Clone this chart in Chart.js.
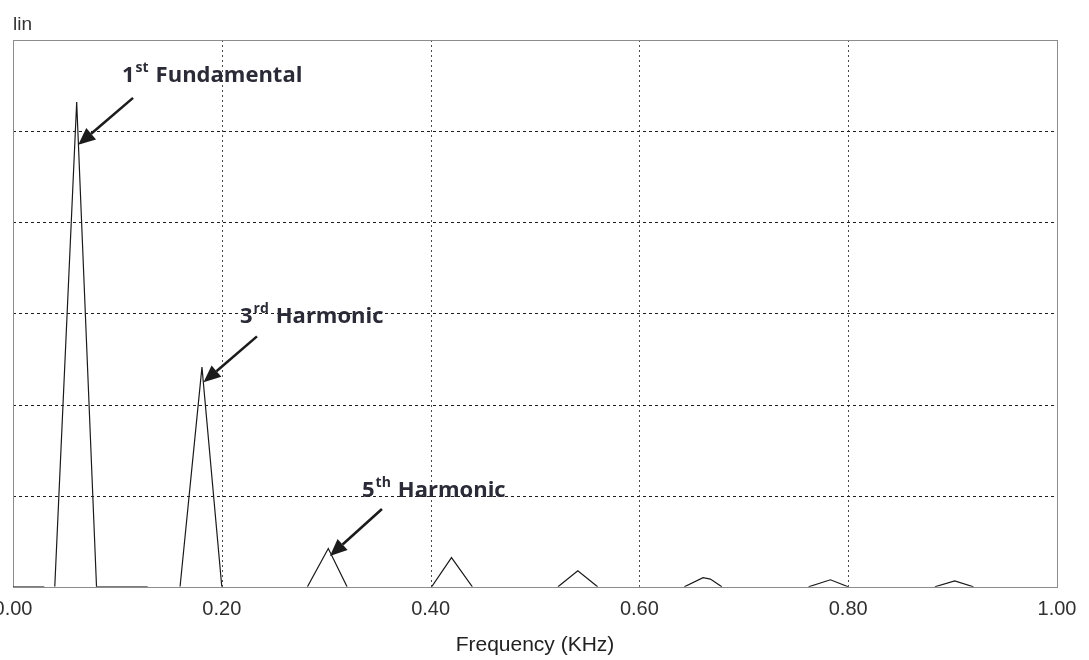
<!DOCTYPE html>
<html>
<head>
<meta charset="utf-8">
<script src="https://cdn.jsdelivr.net/npm/chart.js@4.4.1/dist/chart.umd.min.js"></script>
<style>
  html, body { margin: 0; padding: 0; background: #ffffff; overflow: hidden; }
  #wrap { position: relative; width: 1089px; height: 660px; }
</style>
</head>
<body>
<div id="wrap"><canvas id="spectrum"></canvas></div>
<script>
// Spectrum trace: frequency (kHz) and linear amplitude; null breaks the trace.
const frequencyKHz = [
  0.000, 0.030, 0.035,
  0.040, 0.061, 0.080, 0.129, 0.145,
  0.160, 0.181, 0.200, 0.240,
  0.282, 0.302, 0.320, 0.360,
  0.401, 0.420, 0.440, 0.480,
  0.522, 0.541, 0.560, 0.600,
  0.643, 0.661, 0.668, 0.679, 0.720,
  0.762, 0.783, 0.800, 0.840,
  0.883, 0.902, 0.920
];
const amplitude = [
  0, 0, null,
  0, 5.32, 0, 0, null,
  0, 2.41, 0, null,
  0, 0.42, 0, null,
  0, 0.32, 0, null,
  0, 0.175, 0, null,
  0, 0.10, 0.085, 0, null,
  0, 0.077, 0, null,
  0, 0.065, 0
];

// Axis ticks
const xTickValues = [0.00, 0.20, 0.40, 0.60, 0.80, 1.00];
const yGridValues = [0, 1, 2, 3, 4, 5, 6];

// Harmonic callouts (data units)
const calloutOrdinals = ['1', '3', '5'];
const calloutSuffixes = ['st', 'rd', 'th'];
const calloutNames = ['Fundamental', 'Harmonic', 'Harmonic'];
const calloutLayout = [
  { textX: 0.1044, textY: 5.54, fromX: 0.1150, fromY: 5.365, toX: 0.0625, toY: 4.85 },
  { textX: 0.2174, textY: 2.90, fromX: 0.2337, fromY: 2.748, toX: 0.1825, toY: 2.245 },
  { textX: 0.3343, textY: 0.985, fromX: 0.3534, fromY: 0.854, toX: 0.3036, toY: 0.339 }
];

const points = frequencyKHz.map((f, i) => ({ x: f, y: amplitude[i] }));

// Grid lines and plot frame
const framePlugin = {
  id: 'frameAndGrid',
  beforeDatasetsDraw(chart) {
    const { ctx, chartArea: a, scales: { x, y } } = chart;
    ctx.save();
    ctx.lineWidth = 1;
    // vertical dotted grid
    ctx.strokeStyle = '#4a4a4a';
    ctx.setLineDash([2, 3]);
    xTickValues.slice(1, -1).forEach(v => {
      const px = Math.round(x.getPixelForValue(v)) + 0.5;
      ctx.beginPath(); ctx.moveTo(px, a.top); ctx.lineTo(px, a.bottom); ctx.stroke();
    });
    // horizontal dashed grid
    ctx.strokeStyle = '#1e1e1e';
    ctx.setLineDash([3, 3]);
    yGridValues.slice(1, -1).forEach(v => {
      const py = Math.round(y.getPixelForValue(v)) + 0.5;
      ctx.beginPath(); ctx.moveTo(a.left, py); ctx.lineTo(a.right, py); ctx.stroke();
    });
    // frame
    ctx.setLineDash([]);
    ctx.strokeStyle = '#8c8c8c';
    ctx.strokeRect(Math.round(a.left) + 0.5, Math.round(a.top) + 0.5,
                   Math.round(a.right - a.left), Math.round(a.bottom - a.top));
    ctx.restore();
  },
  afterDraw(chart) {
    const { ctx, chartArea: a } = chart;
    ctx.save();
    ctx.fillStyle = '#333333';
    ctx.font = '19px "Liberation Sans", Arial, sans-serif';
    ctx.textBaseline = 'alphabetic';
    ctx.textAlign = 'left';
    ctx.fillText('lin', a.left, a.top - 10);
    ctx.restore();
  }
};

// Arrows and harmonic labels
const calloutPlugin = {
  id: 'callouts',
  afterDatasetsDraw(chart) {
    const { ctx, scales: { x, y } } = chart;
    ctx.save();
    calloutLayout.forEach((c, i) => {
      const fx = x.getPixelForValue(c.fromX), fy = y.getPixelForValue(c.fromY);
      const tx = x.getPixelForValue(c.toX), ty = y.getPixelForValue(c.toY);
      const ang = Math.atan2(ty - fy, tx - fx);
      const headLen = 17, headHalf = 7.5;
      const bx = tx - headLen * Math.cos(ang), by = ty - headLen * Math.sin(ang);
      ctx.strokeStyle = '#1c1c1c';
      ctx.fillStyle = '#1c1c1c';
      ctx.lineWidth = 2.6;
      ctx.beginPath(); ctx.moveTo(fx, fy); ctx.lineTo(bx, by); ctx.stroke();
      ctx.beginPath();
      ctx.moveTo(tx, ty);
      ctx.lineTo(bx + headHalf * Math.sin(ang), by - headHalf * Math.cos(ang));
      ctx.lineTo(bx - headHalf * Math.sin(ang), by + headHalf * Math.cos(ang));
      ctx.closePath(); ctx.fill();

      // label text
      let px = x.getPixelForValue(c.textX);
      const py = y.getPixelForValue(c.textY);
      ctx.fillStyle = '#2a2b36';
      ctx.textBaseline = 'alphabetic';
      ctx.textAlign = 'left';
      ctx.font = 'bold 22px "Open Sans", sans-serif';
      ctx.fillText(calloutOrdinals[i], px, py);
      px += ctx.measureText(calloutOrdinals[i]).width + 1;
      ctx.font = 'bold 14px "Open Sans", sans-serif';
      ctx.fillText(calloutSuffixes[i], px, py - 10);
      px += ctx.measureText(calloutSuffixes[i]).width + 7;
      ctx.font = 'bold 22px "Open Sans", sans-serif';
      ctx.fillText(calloutNames[i], px, py);
    });
    ctx.restore();
  }
};

new Chart(document.getElementById('spectrum'), {
  type: 'line',
  data: {
    datasets: [{
      data: points,
      borderColor: '#1a1a1a',
      borderWidth: 1.2,
      pointRadius: 0,
      tension: 0,
      spanGaps: false,
      fill: false
    }]
  },
  options: {
    responsive: true,
    maintainAspectRatio: false,
    animation: false,
    layout: { padding: { left: 13, right: 32, top: 40, bottom: 2 } },
    plugins: { legend: { display: false }, tooltip: { enabled: false } },
    scales: {
      x: {
        type: 'linear',
        min: 0,
        max: 1,
        afterBuildTicks: s => { s.ticks = xTickValues.map(v => ({ value: v })); },
        afterFit: s => { s.paddingLeft = 0; s.paddingRight = 0; },
        grid: { display: false, drawTicks: false },
        border: { display: false },
        ticks: {
          padding: 11,
          maxRotation: 0,
          autoSkip: false,
          color: '#303030',
          font: { family: '"Liberation Sans", Arial, sans-serif', size: 20, lineHeight: 1.2 },
          callback: v => Number(v).toFixed(2)
        },
        title: {
          display: true,
          text: 'Frequency (KHz)',
          color: '#222222',
          padding: { top: 0, bottom: 0 },
          font: { family: '"Liberation Sans", Arial, sans-serif', size: 21, lineHeight: 1.2 }
        }
      },
      y: {
        min: 0,
        max: 6,
        afterBuildTicks: s => { s.ticks = yGridValues.map(v => ({ value: v })); },
        grid: { display: false, drawTicks: false },
        border: { display: false },
        ticks: { display: false }
      }
    }
  },
  plugins: [framePlugin, calloutPlugin]
});
</script>
</body>
</html>
